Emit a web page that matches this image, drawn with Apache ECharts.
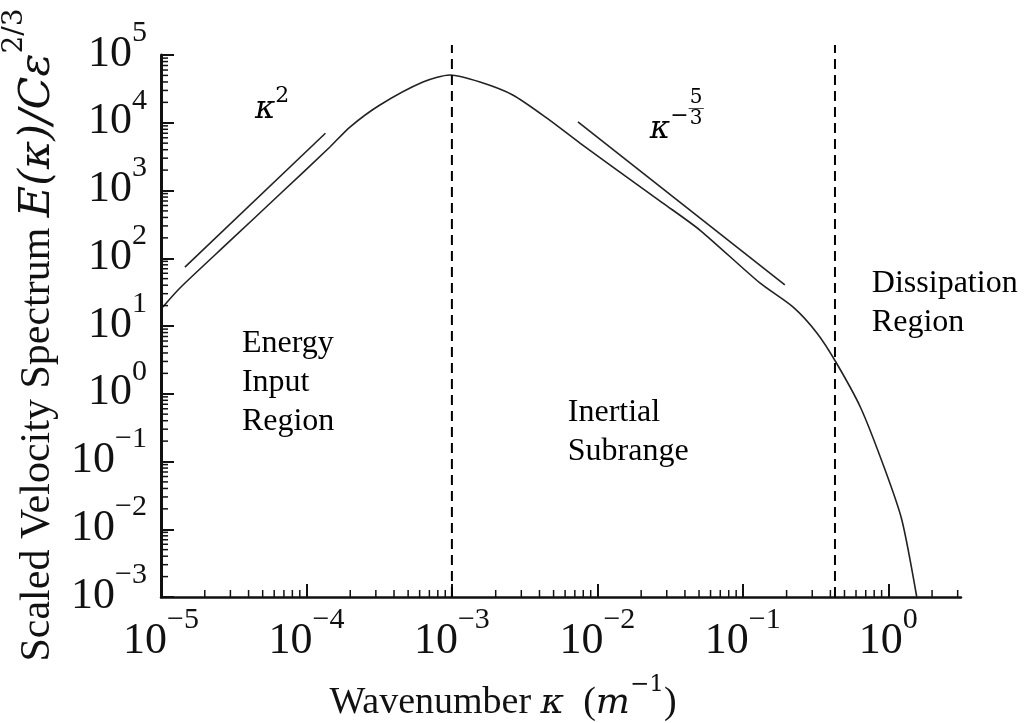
<!DOCTYPE html>
<html>
<head>
<meta charset="utf-8">
<script src="https://cdn.jsdelivr.net/npm/echarts@6/dist/echarts.min.js"></script>
<style>
  html, body { margin: 0; padding: 0; background: #fff; }
  #chart { width: 1029px; height: 723px; }
</style>
</head>
<body>
<div id="chart"></div>
<script>
// spectrum (kappa in 1/m, scaled spectrum)
var kappa = [1.03e-5, 1.35e-5, 2.98e-5, 6.58e-5, 1.45e-4, 1.99e-4, 3.2e-4, 6.32e-4, 9.7e-4, 1.56e-3, 2.62e-3, 4.5e-3,
  7.59e-3, 1.28e-2, 2.82e-2, 5.06e-2, 0.131, 0.221, 0.323, 0.436, 0.647, 0.946, 1.24, 1.57]
var spectrum = [19.1, 36.4, 180, 887, 4390, 8650, 18300, 39900, 50700, 39900, 25700, 11700,
  5020, 2220, 653, 261, 43.2, 19.1, 7.89, 2.94, 0.617, 0.0774, 0.0137, 0.001]

// reference slopes k^2 and k^-5/3
var slope2K = [1.46e-5, 1.35e-4]
var slope2E = [74, 7000]
var slope53K = [7.35e-3, 0.1945]
var slope53E = [10260, 40.3]

// region boundaries (dashed)
var boundaries = [1e-3, 0.43]
var boundaryTop = 1.4e5

// axis ranges
var xMin = 1e-5
var xMax = Math.pow(10, 0.5)
var yMin = 1e-3
var yMax = 1e5

// annotations: [kappa, E, text]
var notes = [
  [3.6e-5, 1.44, 'Energy\nInput\nRegion'],
  [6.26e-3, 0.272, 'Inertial\nSubrange'],
  [0.771, 21.8, 'Dissipation\nRegion'],
  [4.43e-5, 18300, '{k|κ}{e|2}'],
  [0.02296, 9270, '{k|κ}{e|−}'],
  [0.0478, 16500, '{n|5}\n{bar|—}\n{n|3}']
]

var serif = '"Liberation Serif", "Times New Roman", serif'
var mathFont = '"DejaVu Serif", serif'

// log minor ticks 2..9 per decade
var minorX = []
var minorY = []
for (var n = -5; n <= 0; n++) {
  for (var k = 2; k <= 9; k++) {
    if (k * Math.pow(10, n) < xMax) minorX.push(k * Math.pow(10, n))
  }
}
for (var m = -3; m < 5; m++) {
  for (var j = 2; j <= 9; j++) minorY.push(j * Math.pow(10, m))
}
var tickData = minorX.map(function (v) { return [v, yMin, 0] })
  .concat(minorY.map(function (v) { return [xMin, v, 1] }))

function powLabel (v) {
  var e = Math.log10(v)
  if (Math.abs(e - Math.round(e)) > 0.01) return ''
  e = Math.round(e)
  return '{b|10}{s|' + (e < 0 ? '−' + (-e) : e) + '}'
}

var labelRich = {
  b: { fontFamily: serif, fontSize: 44, lineHeight: 58, verticalAlign: 'bottom', color: '#111' },
  s: { fontFamily: serif, fontSize: 30, lineHeight: 22, verticalAlign: 'top', color: '#111' }
}

function pairs (xs, ys) {
  return xs.map(function (x, i) { return [x, ys[i]] })
}

var chart = echarts.init(document.getElementById('chart'))

var series = [
  {
    type: 'line',
    data: pairs(kappa, spectrum),
    smooth: 0.25,
    symbol: 'none',
    lineStyle: { color: '#222', width: 1.6 },
    z: 3
  },
  {
    type: 'line',
    data: pairs(slope2K, slope2E),
    symbol: 'none',
    lineStyle: { color: '#222', width: 1.6 }
  },
  {
    type: 'line',
    data: pairs(slope53K, slope53E),
    symbol: 'none',
    lineStyle: { color: '#222', width: 1.6 }
  },
  {
    type: 'custom',
    data: tickData,
    silent: true,
    renderItem: function (params, api) {
      var p = api.coord([api.value(0), api.value(1)])
      var shape = api.value(2) === 1
        ? { x1: p[0], y1: p[1], x2: p[0] + 7, y2: p[1] }
        : { x1: p[0], y1: p[1], x2: p[0], y2: p[1] - 7 }
      return { type: 'line', shape: shape, style: { stroke: '#111', lineWidth: 1.5 } }
    },
    z: 4
  },
  {
    type: 'scatter',
    symbolSize: 0,
    silent: true,
    itemStyle: { opacity: 1 },
    data: notes.map(function (d, i) {
      var item = { value: [d[0], d[1]], text: d[2] }
      if (i === 5) item.label = { position: 'inside', align: 'center' }
      return item
    }),
    label: {
      show: true,
      position: 'right',
      distance: 0,
      color: '#000',
      opacity: 1,
      fontFamily: serif,
      fontSize: 32,
      lineHeight: 39,
      formatter: function (p) { return p.data.text },
      rich: {
        k: { fontFamily: mathFont, fontStyle: 'italic', fontSize: 31, lineHeight: 40, verticalAlign: 'bottom', color: '#000' },
        e: { fontFamily: mathFont, fontSize: 22, lineHeight: 22, verticalAlign: 'top', color: '#000' },
        n: { fontFamily: mathFont, fontSize: 20, lineHeight: 17, align: 'center', color: '#000' },
        bar: { fontFamily: serif, fontSize: 15, lineHeight: 4, align: 'center', color: '#000' }
      }
    }
  }
]

boundaries.forEach(function (b) {
  series.push({
    type: 'line',
    data: [[b, yMin], [b, boundaryTop]],
    symbol: 'none',
    clip: false,
    lineStyle: { color: '#000', width: 2, type: [10, 6] }
  })
})

chart.setOption({
  backgroundColor: '#fff',
  animation: false,
  grid: { left: 161, right: 68, top: 55, bottom: 126, containLabel: false, outerBoundsMode: 'none' },
  xAxis: {
    type: 'log',
    logBase: 10,
    min: xMin,
    max: xMax,
    splitNumber: 6,
    axisLine: { lineStyle: { color: '#111', width: 2.5 } },
    axisTick: { show: true, inside: true, length: 13, lineStyle: { color: '#111', width: 2 } },
    splitLine: { show: false },
    axisLabel: { formatter: powLabel, margin: 8, rich: labelRich, showMaxLabel: false }
  },
  yAxis: {
    type: 'log',
    logBase: 10,
    min: yMin,
    max: yMax,
    splitNumber: 8,
    axisLine: { lineStyle: { color: '#111', width: 3 } },
    axisTick: { show: true, inside: true, length: 13, lineStyle: { color: '#111', width: 2 } },
    splitLine: { show: false },
    axisLabel: { formatter: powLabel, margin: 14, padding: [0, 0, 16, 0], rich: labelRich }
  },
  graphic: [
    {
      type: 'text',
      x: 30,
      y: 335,
      rotation: Math.PI / 2,
      style: {
        text: '{r|Scaled Velocity Spectrum }{m|E(κ)/Cε}{p|2/3}',
        align: 'center',
        verticalAlign: 'middle',
        rich: {
          r: { fontFamily: serif, fontSize: 42, lineHeight: 58, verticalAlign: 'bottom', fill: '#111' },
          m: { fontFamily: mathFont, fontStyle: 'italic', fontSize: 43, lineHeight: 58, verticalAlign: 'bottom', fill: '#111' },
          p: { fontFamily: mathFont, fontSize: 28, lineHeight: 26, verticalAlign: 'top', fill: '#111' }
        }
      }
    },
    {
      type: 'text',
      x: 503,
      y: 698,
      style: {
        text: '{r|Wavenumber }{m|κ}{r|  (}{m|m}{p|−1}{r|)}',
        align: 'center',
        verticalAlign: 'middle',
        rich: {
          r: { fontFamily: serif, fontSize: 38, lineHeight: 48, verticalAlign: 'bottom', fill: '#111' },
          m: { fontFamily: mathFont, fontStyle: 'italic', fontSize: 36, lineHeight: 48, verticalAlign: 'bottom', fill: '#111' },
          p: { fontFamily: mathFont, fontSize: 23, lineHeight: 22, verticalAlign: 'top', fill: '#111' }
        }
      }
    }
  ],
  series: series
})
</script>
</body>
</html>
